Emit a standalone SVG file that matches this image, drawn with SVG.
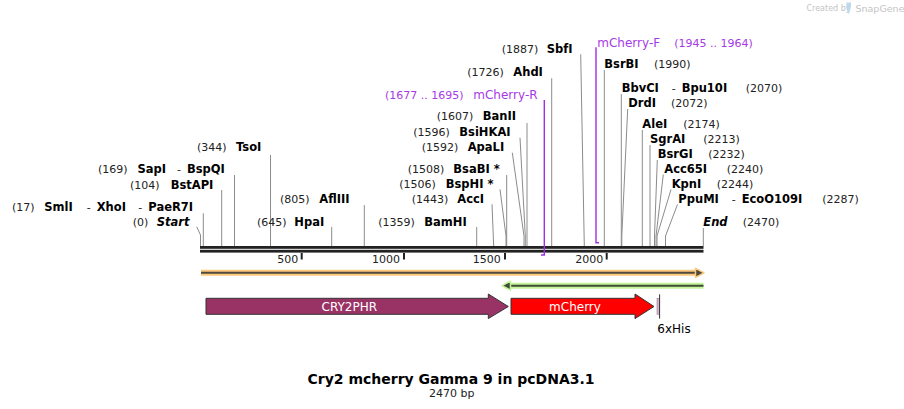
<svg xmlns="http://www.w3.org/2000/svg" width="904" height="409" viewBox="0 0 904 409">
<style>
text{font-family:"DejaVu Sans","Liberation Sans",sans-serif}
.n{font-size:11px;fill:#222}
.b{font-size:11.5px;font-weight:bold;fill:#000}
.bi{font-size:11.5px;font-weight:bold;font-style:italic;fill:#000}
.pn{font-size:11px;fill:#a63ae6}
.pl{font-size:12px;fill:#a63ae6}
.ln{stroke:#8c8c8c;stroke-width:1;fill:none}
.pr{stroke:#a02ee6;stroke-width:1.4;fill:none}
.tk{stroke:#222;stroke-width:2}
.fl{font-size:12px;fill:#fff}
.wm{fill:#c4c4c4}
</style>
<rect width="904" height="409" fill="#fff"/>

<g id="watermark">
<text class="wm" x="806.5" y="11" font-size="8">Created by</text>
<path d="M846.5,2.5 h4.5 v4 l-1.8,7 h-1.2 l-1.5,-5 z" fill="#bfd9ec"/>
<text class="wm" x="855.5" y="11.5" font-size="9.5" fill="#b0b0b0">SnapGene</text>
</g>

<g id="backbone">
<rect x="200" y="246" width="503.5" height="2.8" fill="#222"/>
<rect x="200" y="249.8" width="503.5" height="2.8" fill="#222"/>
<line class="tk" x1="301.7" y1="253" x2="301.7" y2="259.5"/>
<line class="tk" x1="404" y1="253" x2="404" y2="259.5"/>
<line class="tk" x1="505" y1="253" x2="505" y2="259.5"/>
<line class="tk" x1="606.7" y1="253" x2="606.7" y2="259.5"/>
<text class="n" x="298.3" y="263" text-anchor="end">500</text>
<text class="n" x="400" y="263" text-anchor="end">1000</text>
<text class="n" x="500.7" y="263" text-anchor="end">1500</text>
<text class="n" x="603.3" y="263" text-anchor="end">2000</text>
</g>

<g id="connectors">
<path class="ln" d="M196.7,226.7 L200.5,235 L200.5,246"/>
<path class="ln" d="M203.3,213.3 V246"/>
<path class="ln" d="M221.7,190 V246"/>
<path class="ln" d="M234.5,175 V246"/>
<path class="ln" d="M270.5,155 V246"/>
<path class="ln" d="M331.7,227 V246"/>
<path class="ln" d="M364.3,205 V246"/>
<path class="ln" d="M476.7,227 V246"/>
<path class="ln" d="M492,204.3 L493.7,246"/>
<path class="ln" d="M500,189.3 L506,236 V246"/>
<path class="ln" d="M506.7,175 V246"/>
<path class="ln" d="M512.3,152.7 L524,236 V246"/>
<path class="ln" d="M520,137.7 L525.3,236 V246"/>
<path class="ln" d="M527,123 V246"/>
<path class="ln" d="M551.7,78.3 V246"/>
<path class="ln" d="M580.7,54.3 L584.3,246"/>
<path class="ln" d="M604.3,70 V246"/>
<path class="ln" d="M621.3,94 V246"/>
<path class="ln" d="M627.7,109 L621.8,236 V246"/>
<path class="ln" d="M642.3,130 V246"/>
<path class="ln" d="M650,145 V246"/>
<path class="ln" d="M657.3,160 L654.5,236 V246"/>
<path class="ln" d="M663.3,174.5 L656,236 V246"/>
<path class="ln" d="M671,189.5 L657,236 V246"/>
<path class="ln" d="M677.5,204.5 L665.5,236 V246"/>
<path class="ln" d="M703.3,228 V246"/>
<path class="pr" d="M544.3,100 V255 H541"/>
<path class="pr" d="M596,47.3 V242.8 H599"/>
</g>

<g id="site-start"><text class="n" x="132.7" y="226">(0)</text><text class="bi" x="156.7" y="226">Start</text></g>
<g id="site-SmlI"><text class="n" x="12" y="210.5">(17)</text><text class="b" x="44.3" y="210.5">SmlI</text><text class="n" x="86.7" y="210.5">-</text><text class="b" x="96.7" y="210.5">XhoI</text><text class="n" x="138.3" y="210.5">-</text><text class="b" x="148.3" y="210.5">PaeR7I</text></g>
<g id="site-BstAPI"><text class="n" x="130" y="188.7">(104)</text><text class="b" x="170.7" y="188.7">BstAPI</text></g>
<g id="site-SapI"><text class="n" x="98" y="172.5">(169)</text><text class="b" x="137.5" y="172.5">SapI</text><text class="n" x="177" y="172.5">-</text><text class="b" x="187" y="172.5">BspQI</text></g>
<g id="site-TsoI"><text class="n" x="197" y="150.5">(344)</text><text class="b" x="236" y="150.5">TsoI</text></g>
<g id="site-HpaI"><text class="n" x="257" y="226">(645)</text><text class="b" x="294.3" y="226">HpaI</text></g>
<g id="site-AflIII"><text class="n" x="280" y="203">(805)</text><text class="b" x="319.3" y="203">AflIII</text></g>
<g id="site-BamHI"><text class="n" x="378.3" y="226">(1359)</text><text class="b" x="424.3" y="226">BamHI</text></g>
<g id="site-AccI"><text class="n" x="411.7" y="203">(1443)</text><text class="b" x="457.3" y="203">AccI</text></g>
<g id="site-BspHI"><text class="n" x="399.3" y="187.5">(1506)</text><text class="b" x="445.7" y="187.5">BspHI *</text></g>
<g id="site-BsaBI"><text class="n" x="407.7" y="173">(1508)</text><text class="b" x="453.3" y="173">BsaBI *</text></g>
<g id="site-ApaLI"><text class="n" x="421.7" y="151">(1592)</text><text class="b" x="467.7" y="151">ApaLI</text></g>
<g id="site-BsiHKAI"><text class="n" x="413.3" y="136">(1596)</text><text class="b" x="459.3" y="136">BsiHKAI</text></g>
<g id="site-BanII"><text class="n" x="436.7" y="120">(1607)</text><text class="b" x="482.7" y="120">BanII</text></g>
<g id="primer-mCherry-R"><text class="pn" x="385" y="98.5">(1677 .. 1695)</text><text class="pl" x="473.3" y="98.5">mCherry-R</text></g>
<g id="site-AhdI"><text class="n" x="467.3" y="76">(1726)</text><text class="b" x="513.3" y="76">AhdI</text></g>
<g id="site-SbfI"><text class="n" x="501.7" y="53">(1887)</text><text class="b" x="546.7" y="53">SbfI</text></g>

<g id="primer-mCherry-F"><text class="pl" x="597.3" y="46.5">mCherry-F</text><text class="pn" x="674.3" y="46.5">(1945 .. 1964)</text></g>
<g id="site-BsrBI"><text class="b" x="604.3" y="68">BsrBI</text><text class="n" x="654" y="68">(1990)</text></g>
<g id="site-BbvCI"><text class="b" x="621.7" y="91.5">BbvCI</text><text class="n" x="671.7" y="91.5">-</text><text class="b" x="681.7" y="91.5">Bpu10I</text><text class="n" x="745.7" y="91.5">(2070)</text></g>
<g id="site-DrdI"><text class="b" x="628.3" y="106.5">DrdI</text><text class="n" x="671" y="106.5">(2072)</text></g>
<g id="site-AleI"><text class="b" x="642.3" y="128">AleI</text><text class="n" x="683.3" y="128">(2174)</text></g>
<g id="site-SgrAI"><text class="b" x="650" y="142.5">SgrAI</text><text class="n" x="703.3" y="142.5">(2213)</text></g>
<g id="site-BsrGI"><text class="b" x="657.7" y="158">BsrGI</text><text class="n" x="708.3" y="158">(2232)</text></g>
<g id="site-Acc65I"><text class="b" x="664.3" y="173">Acc65I</text><text class="n" x="726.7" y="173">(2240)</text></g>
<g id="site-KpnI"><text class="b" x="671.7" y="188">KpnI</text><text class="n" x="716.7" y="188">(2244)</text></g>
<g id="site-PpuMI"><text class="b" x="678.3" y="203">PpuMI</text><text class="n" x="731.7" y="203">-</text><text class="b" x="741.7" y="203">EcoO109I</text><text class="n" x="822.3" y="203">(2287)</text></g>
<g id="site-end"><text class="bi" x="703.3" y="226">End</text><text class="n" x="742.7" y="226">(2470)</text></g>

<g id="feature-orange">
<line x1="201" y1="272.8" x2="700" y2="272.8" stroke="#fcc87c" stroke-width="6"/>
<line x1="201" y1="272.8" x2="698" y2="272.8" stroke="#4d4a3e" stroke-width="2"/>
<polygon points="695.5,268.3 704,272.8 695.5,277.3" fill="#4d4a3e" stroke="#fcc87c" stroke-width="1.5" stroke-linejoin="round"/>
</g>
<g id="feature-green">
<line x1="505" y1="285.7" x2="703.5" y2="285.7" stroke="#c3f598" stroke-width="6"/>
<line x1="508" y1="285.7" x2="703.5" y2="285.7" stroke="#3f4d38" stroke-width="2"/>
<polygon points="510.5,281.2 502,285.7 510.5,290.2" fill="#3f4d38" stroke="#c3f598" stroke-width="1.5" stroke-linejoin="round"/>
</g>

<g id="feature-CRY2PHR">
<polygon points="206,298.3 488.3,298.3 488.3,294 508.3,306.5 488.3,318.6 488.3,314.3 206,314.3" fill="#993366" stroke="#333" stroke-width="1"/>
<text class="fl" x="349.3" y="310.8" text-anchor="middle">CRY2PHR</text>
</g>
<g id="feature-mCherry">
<polygon points="511,298.3 635,298.3 635,294 654,306.5 635,318.6 635,314.3 511,314.3" fill="#ff0000" stroke="#333" stroke-width="1"/>
<text class="fl" x="575" y="310.8" text-anchor="middle">mCherry</text>
</g>
<g id="feature-6xHis">
<rect x="657" y="298.3" width="2.6" height="16" fill="#d6b3cc" stroke="#8a6a80" stroke-width="0.5"/>
<line x1="659.6" y1="294.3" x2="659.6" y2="318.6" stroke="#333" stroke-width="1"/>
<text x="657.3" y="332.5" font-size="12" fill="#000">6xHis</text>
</g>

<g id="title">
<text x="451" y="383.5" text-anchor="middle" font-size="14" font-weight="bold" fill="#000">Cry2 mcherry Gamma 9 in pcDNA3.1</text>
<text x="451.7" y="397" text-anchor="middle" font-size="11" fill="#222">2470 bp</text>
</g>
</svg>
